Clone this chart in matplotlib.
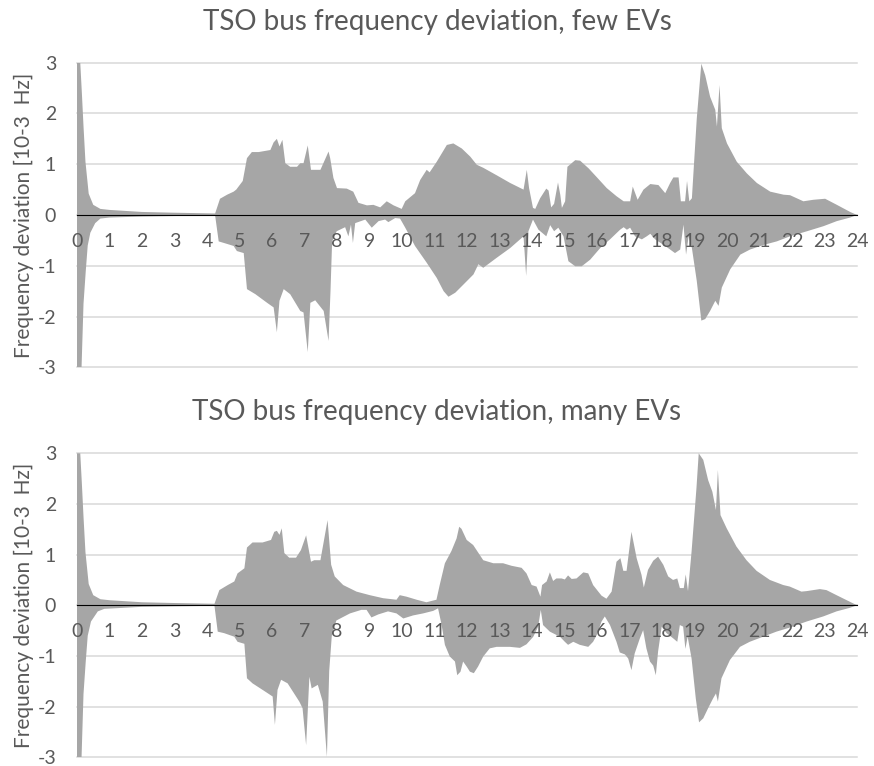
import matplotlib
matplotlib.use("Agg")
import matplotlib.pyplot as plt
import numpy as np

plt.rcParams['font.family'] = ['Lato', 'DejaVu Sans']
plt.rcParams['axes.unicode_minus'] = False

# Hour of day and envelope of the TSO bus frequency deviation [10^-3 Hz]
few_upper = [
    (0, 3.0), (0.1, 3.0), (0.15, 2.4), (0.2, 1.75), (0.26, 1.05), (0.36, 0.42), (0.5, 0.2),
    (0.72, 0.12), (1.0, 0.1), (1.5, 0.08), (2.0, 0.06), (3.0, 0.045), (4.25, 0.03), (4.4, 0.32),
    (4.62, 0.4), (4.82, 0.46), (4.9, 0.5), (5.1, 0.67), (5.23, 1.12), (5.38, 1.24), (5.59, 1.24),
    (5.95, 1.28), (6.05, 1.43), (6.15, 1.5), (6.23, 1.35), (6.32, 1.48), (6.41, 1.02), (6.56, 0.95),
    (6.77, 0.95), (6.87, 1.02), (6.97, 1.02), (7.1, 1.37), (7.2, 0.89), (7.49, 0.89), (7.74, 1.25),
    (7.79, 1.12), (7.89, 0.73), (8.0, 0.53), (8.3, 0.52), (8.5, 0.46), (8.66, 0.24), (8.92, 0.19),
    (9.12, 0.2), (9.33, 0.15), (9.53, 0.27), (9.74, 0.19), (9.99, 0.12), (10.1, 0.27), (10.4, 0.43),
    (10.56, 0.69), (10.76, 0.89), (10.85, 0.84), (11.07, 1.05), (11.38, 1.38), (11.58, 1.41),
    (11.84, 1.31), (12.1, 1.15), (12.3, 0.99), (12.5, 0.93), (12.92, 0.78), (13.33, 0.63),
    (13.74, 0.5), (13.84, 0.89), (13.91, 0.53), (14.03, 0.14), (14.1, 0.12), (14.25, 0.33),
    (14.44, 0.52), (14.51, 0.48), (14.59, 0.15), (14.68, 0.22), (14.8, 0.64), (14.87, 0.4),
    (14.92, 0.14), (15.02, 0.27), (15.09, 0.95), (15.33, 1.08), (15.48, 1.07), (15.74, 0.92),
    (16.0, 0.74), (16.3, 0.53), (16.6, 0.37), (16.82, 0.27), (17.02, 0.27), (17.1, 0.56),
    (17.25, 0.3), (17.43, 0.5), (17.64, 0.61), (17.89, 0.59), (18.1, 0.43), (18.25, 0.63),
    (18.35, 0.74), (18.51, 0.74), (18.58, 0.27), (18.71, 0.27), (18.77, 0.67), (18.84, 0.27),
    (18.92, 0.33), (19.07, 1.9), (19.21, 2.98), (19.33, 2.75), (19.48, 2.33), (19.64, 2.07),
    (19.69, 1.74), (19.77, 2.56), (19.84, 1.71), (20.0, 1.41), (20.3, 1.05), (20.61, 0.82),
    (20.92, 0.63), (21.33, 0.46), (21.74, 0.4), (21.94, 0.39), (22.35, 0.27), (22.66, 0.3),
    (23.02, 0.32), (23.38, 0.2), (23.79, 0.06), (24.0, 0.0),
]

few_lower = [
    (0, -3.0), (0.14, -3.0), (0.2, -1.75), (0.27, -1.1), (0.33, -0.6), (0.41, -0.35), (0.56, -0.16),
    (0.72, -0.07), (1.0, -0.05), (2.0, -0.03), (3.0, -0.02), (4.25, -0.01), (4.36, -0.52),
    (4.62, -0.57), (4.82, -0.61), (4.92, -0.71), (5.13, -0.75), (5.23, -1.46), (5.49, -1.56),
    (5.85, -1.73), (6.05, -1.82), (6.15, -2.31), (6.23, -1.69), (6.36, -1.46), (6.56, -1.56),
    (6.87, -1.89), (6.97, -1.92), (7.1, -2.7), (7.18, -1.73), (7.33, -1.68), (7.59, -1.89),
    (7.74, -2.48), (7.8, -1.5), (7.85, -0.52), (7.99, -0.32), (8.25, -0.24), (8.35, -0.42),
    (8.43, -0.19), (8.49, -0.55), (8.56, -0.16), (8.87, -0.09), (9.07, -0.25), (9.28, -0.12),
    (9.48, -0.09), (9.58, -0.14), (9.79, -0.06), (9.94, -0.07), (10.1, -0.25), (10.4, -0.61),
    (10.76, -0.94), (11.07, -1.24), (11.28, -1.5), (11.43, -1.61), (11.64, -1.53), (11.89, -1.37),
    (12.2, -1.17), (12.35, -0.97), (12.5, -1.04), (12.92, -0.84), (13.33, -0.65), (13.74, -0.42),
    (13.82, -1.2), (13.89, -0.32), (14.03, -0.09), (14.2, -0.29), (14.44, -0.42), (14.56, -0.2),
    (14.68, -0.32), (14.81, -0.25), (14.97, -0.42), (15.12, -0.91), (15.33, -1.01), (15.53, -1.01),
    (15.79, -0.88), (16.1, -0.65), (16.4, -0.48), (16.71, -0.29), (16.82, -0.24), (16.92, -0.29),
    (17.02, -0.25), (17.17, -0.42), (17.38, -0.48), (17.53, -0.42), (17.64, -0.37), (17.79, -0.48),
    (18.05, -0.59), (18.25, -0.68), (18.4, -0.75), (18.56, -0.68), (18.66, -0.19), (18.74, -0.78),
    (18.82, -0.42), (18.92, -0.65), (19.07, -1.3), (19.21, -2.08), (19.33, -2.05), (19.48, -1.89),
    (19.64, -1.69), (19.74, -1.79), (19.84, -1.43), (20.1, -1.07), (20.41, -0.78), (20.71, -0.68),
    (21.12, -0.59), (21.53, -0.52), (21.94, -0.42), (22.46, -0.32), (22.97, -0.22), (23.38, -0.12),
    (23.79, -0.05), (24.0, 0.0),
]

many_upper = [
    (0, 3.0), (0.1, 3.0), (0.15, 2.4), (0.2, 1.75), (0.26, 1.05), (0.36, 0.42), (0.5, 0.2),
    (0.72, 0.12), (1.0, 0.1), (1.5, 0.08), (2.0, 0.06), (3.0, 0.045), (4.23, 0.03), (4.38, 0.3),
    (4.64, 0.4), (4.84, 0.47), (4.94, 0.63), (5.15, 0.73), (5.23, 1.14), (5.4, 1.24), (5.71, 1.24),
    (5.97, 1.29), (6.07, 1.45), (6.15, 1.47), (6.23, 1.39), (6.3, 1.52), (6.38, 1.03), (6.53, 0.94),
    (6.74, 0.94), (6.89, 1.09), (7.05, 1.38), (7.2, 0.86), (7.3, 0.89), (7.49, 0.89), (7.71, 1.68),
    (7.82, 0.8), (7.93, 0.57), (8.19, 0.4), (8.6, 0.27), (9.01, 0.2), (9.42, 0.14), (9.83, 0.11),
    (9.93, 0.2), (10.14, 0.17), (10.45, 0.11), (10.75, 0.06), (11.06, 0.11), (11.16, 0.4),
    (11.32, 0.83), (11.52, 1.07), (11.68, 1.32), (11.76, 1.55), (11.83, 1.51), (11.99, 1.29),
    (12.19, 1.19), (12.5, 0.89), (12.81, 0.83), (13.11, 0.83), (13.37, 0.78), (13.68, 0.74),
    (13.83, 0.63), (13.99, 0.4), (14.14, 0.37), (14.26, 0.17), (14.31, 0.4), (14.45, 0.47),
    (14.55, 0.65), (14.65, 0.48), (14.75, 0.53), (14.91, 0.53), (15.01, 0.51), (15.11, 0.59),
    (15.22, 0.52), (15.37, 0.53), (15.58, 0.65), (15.73, 0.63), (15.88, 0.4), (16.04, 0.27),
    (16.14, 0.19), (16.29, 0.13), (16.45, 0.27), (16.6, 0.86), (16.72, 0.93), (16.81, 0.68),
    (16.91, 0.68), (17.06, 1.45), (17.22, 0.93), (17.37, 0.6), (17.44, 0.35), (17.57, 0.7),
    (17.73, 0.88), (17.88, 0.96), (18.04, 0.8), (18.19, 0.57), (18.34, 0.5), (18.47, 0.53),
    (18.55, 0.34), (18.67, 0.34), (18.73, 0.61), (18.8, 0.28), (18.91, 1.06), (19.06, 2.31),
    (19.13, 3.0), (19.27, 2.87), (19.42, 2.47), (19.55, 2.24), (19.66, 1.88), (19.72, 2.67),
    (19.8, 1.78), (19.99, 1.52), (20.29, 1.16), (20.6, 0.89), (20.91, 0.68), (21.32, 0.5),
    (21.73, 0.4), (21.93, 0.37), (22.29, 0.27), (22.45, 0.28), (22.86, 0.32), (23.06, 0.3),
    (23.37, 0.2), (23.78, 0.07), (24.0, 0.0),
]

many_lower = [
    (0, -3.0), (0.14, -3.0), (0.2, -1.75), (0.27, -1.1), (0.33, -0.6), (0.43, -0.32), (0.64, -0.12),
    (0.84, -0.07), (2.0, -0.03), (3.0, -0.02), (4.23, -0.01), (4.33, -0.52), (4.53, -0.55),
    (4.84, -0.62), (4.94, -0.72), (5.15, -0.76), (5.23, -1.44), (5.4, -1.54), (5.76, -1.69),
    (6.02, -1.8), (6.09, -2.36), (6.17, -1.67), (6.28, -1.47), (6.48, -1.54), (6.84, -1.9),
    (6.94, -2.03), (7.05, -2.76), (7.15, -1.41), (7.22, -1.64), (7.41, -1.57), (7.56, -1.9),
    (7.69, -2.99), (7.76, -1.3), (7.84, -0.6), (7.98, -0.3), (8.4, -0.16), (8.75, -0.09),
    (8.91, -0.09), (9.06, -0.24), (9.27, -0.18), (9.57, -0.12), (9.83, -0.16), (10.04, -0.26),
    (10.34, -0.2), (10.65, -0.16), (10.96, -0.11), (11.11, -0.06), (11.22, -0.39), (11.32, -0.78),
    (11.47, -1.01), (11.63, -1.11), (11.7, -1.38), (11.8, -1.31), (11.88, -1.11), (11.99, -1.21),
    (12.09, -1.31), (12.21, -1.34), (12.34, -1.21), (12.5, -1.01), (12.7, -0.85), (12.91, -0.82),
    (13.32, -0.82), (13.63, -0.84), (13.83, -0.77), (14.04, -0.62), (14.19, -0.42), (14.27, -0.09),
    (14.34, -0.39), (14.55, -0.52), (14.86, -0.62), (15.01, -0.72), (15.11, -0.78), (15.27, -0.72),
    (15.47, -0.78), (15.73, -0.82), (15.88, -0.72), (15.99, -0.59), (16.14, -0.32), (16.24, -0.22),
    (16.4, -0.39), (16.6, -0.72), (16.7, -0.93), (16.86, -0.97), (16.96, -1.05), (17.06, -1.28),
    (17.16, -0.95), (17.32, -0.65), (17.42, -0.49), (17.52, -0.85), (17.63, -1.11), (17.73, -1.19),
    (17.81, -1.38), (17.88, -0.91), (17.99, -0.42), (18.14, -0.55), (18.34, -0.65), (18.47, -0.72),
    (18.55, -0.39), (18.65, -0.42), (18.72, -0.86), (18.79, -0.62), (18.91, -1.05), (19.04, -1.84),
    (19.14, -2.31), (19.27, -2.23), (19.42, -2.03), (19.57, -1.84), (19.66, -1.74), (19.72, -1.9),
    (19.83, -1.44), (20.09, -1.08), (20.4, -0.82), (20.7, -0.72), (21.11, -0.62), (21.52, -0.52),
    (21.93, -0.44), (22.45, -0.32), (22.96, -0.22), (23.37, -0.12), (23.78, -0.05), (24.0, 0.0),
]

hour_ticks = list(range(0, 25))
dev_ticks = [-3, -2, -1, 0, 1, 2, 3]
titles = ["TSO bus frequency deviation, few EVs", "TSO bus frequency deviation, many EVs"]
ylabel = "Frequency deviation [10-3  Hz]"

TEXT = "#595959"
FILL = "#A6A6A6"
GRID = "#D9D9D9"

W, H = 874, 766
fig = plt.figure(figsize=(W / 100, H / 100), dpi=100)

# panel boxes in pixels: left, top, right, bottom
boxes = [(77, 62.7, 857, 367.3), (77, 453.3, 857, 757.3)]
title_y = [22, 412]


def band(ax, upper, lower):
    xu, yu = np.array(upper).T
    xl, yl = np.array(lower).T
    ax.fill(np.concatenate([xu, xl[::-1]]), np.concatenate([yu, yl[::-1]]),
            color=FILL, lw=0, zorder=2)


for (l, t, r, b), ty, title, (up, lo) in zip(
        boxes, title_y, titles, [(few_upper, few_lower), (many_upper, many_lower)]):
    ax = fig.add_axes([l / W, 1 - b / H, (r - l) / W, (b - t) / H])
    # horizontal gridlines sit behind the band
    for v in dev_ticks:
        ax.axhline(v, color=GRID, lw=1.1, zorder=0, clip_on=False)
    band(ax, up, lo)
    ax.set_xlim(0, 24)
    ax.set_ylim(-3, 3)
    ax.set_xticks(hour_ticks)
    ax.set_yticks(dev_ticks)
    for s in ("top", "right", "left"):
        ax.spines[s].set_visible(False)
    ax.spines["bottom"].set_position(("data", 0))
    ax.spines["bottom"].set_color("black")
    ax.spines["bottom"].set_linewidth(0.8)
    ax.spines["bottom"].set_zorder(3)
    ax.xaxis.set_zorder(4)
    ax.yaxis.set_zorder(4)
    ax.tick_params(axis="x", length=0, pad=13, labelsize=14, labelcolor=TEXT)
    ax.tick_params(axis="y", length=0, pad=15, labelsize=14, labelcolor=TEXT)
    fig.text(0.5, 1 - ty / H, title, ha="center", va="center", fontsize=20, color=TEXT)
    fig.text(24 / W, 1 - (t + b) / 2 / H, ylabel, rotation=90, ha="center", va="center",
             fontsize=15, color=TEXT)

fig.savefig("out.png", dpi=100)
